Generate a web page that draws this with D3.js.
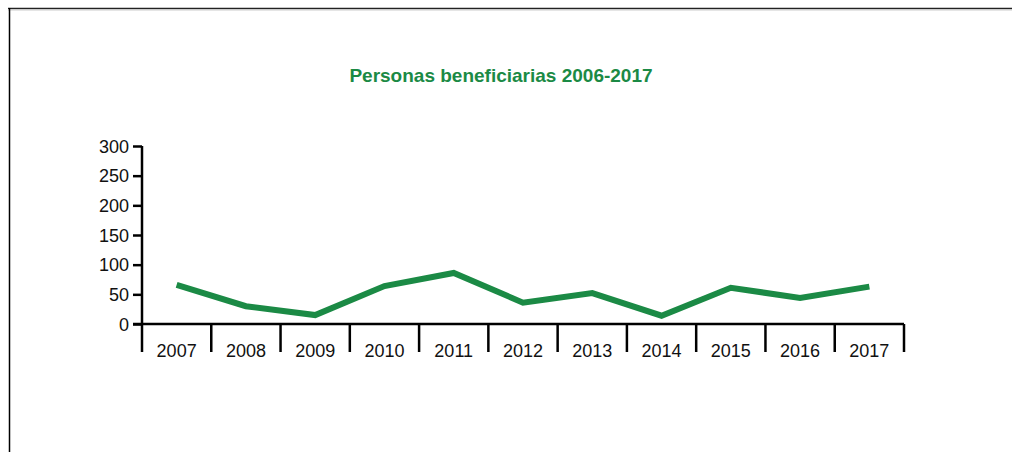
<!DOCTYPE html>
<html>
<head>
<meta charset="utf-8">
<script src="https://cdn.jsdelivr.net/npm/d3@7"></script>
<style>
  body { margin: 0; background: #fff; }
  svg { display: block; font-family: "Liberation Sans", Arial, sans-serif; }
</style>
</head>
<body>
<div id="chart"></div>
<script>
// data
const years = ['2007', '2008', '2009', '2010', '2011', '2012', '2013', '2014', '2015', '2016', '2017'];
const beneficiarios = [66, 30, 15, 64, 86, 36, 52, 14, 61, 44, 63];
const yTicks = [0, 50, 100, 150, 200, 250, 300];

const width = 1012, height = 452;
const green = '#1b8a45';

let svg = d3.select('#chart').append('svg')
    .attr('width', width)
    .attr('height', height);

// frame (top + left only)
svg.append('line')
    .attr('x1', 8).attr('x2', width).attr('y1', 8.5).attr('y2', 8.5)
    .style('stroke', '#222').style('stroke-width', 1.5);
svg.append('line')
    .attr('x1', 8).attr('x2', width).attr('y1', 10).attr('y2', 10)
    .style('stroke', '#ccc').style('stroke-width', 1);
svg.append('line')
    .attr('x1', 9.5).attr('x2', 9.5).attr('y1', 8).attr('y2', height)
    .style('stroke', '#000').style('stroke-width', 1.5);

svg.append('text')
    .attr('x', 501)
    .attr('y', 82)
    .attr('text-anchor', 'middle')
    .style('font-size', '19px')
    .style('font-weight', 'bold')
    .style('fill', green)
    .text('Personas beneficiarias 2006-2017');

let x = d3.scaleBand()
    .domain(years)
    .range([142, 904]);

let y = d3.scaleLinear()
    .domain([0, 300])
    .range([324, 146]);

// y axis
let yAxis = svg.append('g')
    .attr('transform', 'translate(142,0)')
    .call(d3.axisLeft(y).tickValues(yTicks).tickSize(9).tickPadding(4));
yAxis.select('.domain').remove();
yAxis.append('line')
    .attr('x1', 0).attr('x2', 0).attr('y1', 146).attr('y2', 352)
    .style('stroke', '#000').style('stroke-width', 2.5);
yAxis.selectAll('.tick line').style('stroke', '#000').style('stroke-width', 2.5);
yAxis.selectAll('.tick text')
    .style('font-size', '18px')
    .style('fill', '#111')
    .attr('dy', '0.35em');

// x axis: horizontal line at zero with dividers between categories
let xg = svg.append('g');
xg.append('line')
    .attr('x1', 133).attr('x2', 904)
    .attr('y1', y(0)).attr('y2', y(0))
    .style('stroke', '#000').style('stroke-width', 2.5);
let edges = years.map(d => x(d)).concat([x(years[years.length - 1]) + x.bandwidth()]);
xg.selectAll('line.div')
    .data(edges.slice(1))
    .join('line')
    .attr('class', 'div')
    .attr('x1', d => d).attr('x2', d => d)
    .attr('y1', y(0)).attr('y2', 352)
    .style('stroke', '#000').style('stroke-width', 2.5);
xg.selectAll('text')
    .data(years)
    .join('text')
    .attr('x', d => x(d) + x.bandwidth() / 2)
    .attr('y', 357)
    .attr('text-anchor', 'middle')
    .style('font-size', '18px')
    .style('fill', '#111')
    .text(d => d);

// the series
let line = d3.line()
    .x((d, i) => x(years[i]) + x.bandwidth() / 2)
    .y(d => y(d));

svg.append('path')
    .datum(beneficiarios)
    .attr('d', line)
    .style('fill', 'none')
    .style('stroke', green)
    .style('stroke-width', 6)
    .style('stroke-linejoin', 'miter');
</script>
</body>
</html>
